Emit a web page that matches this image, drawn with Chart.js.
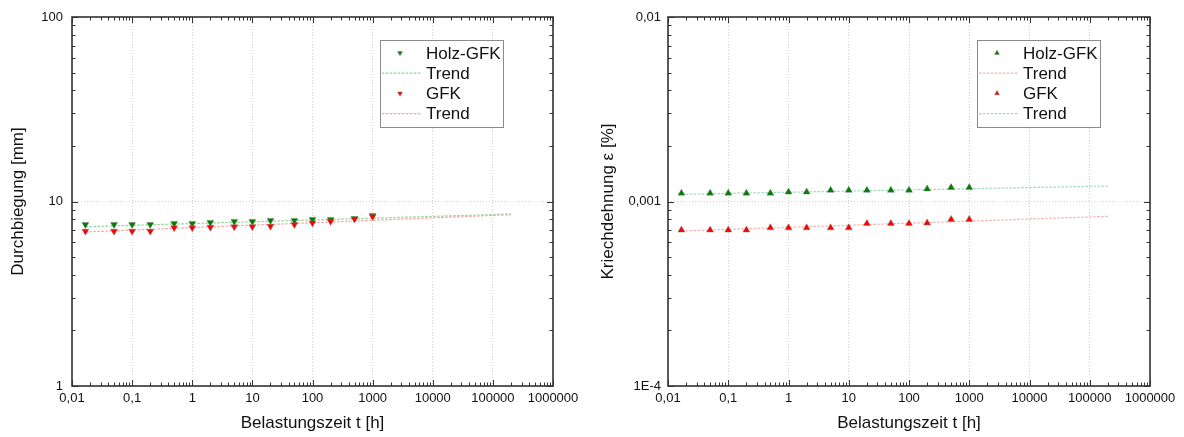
<!DOCTYPE html>
<html>
<head>
<meta charset="utf-8">
<script src="https://cdn.jsdelivr.net/npm/chart.js@4.4.1/dist/chart.umd.min.js"></script>
<style>
  html,body{margin:0;padding:0;background:#fff;}
  .wrap{position:absolute;top:0;width:592px;height:437px;}
</style>
</head>
<body>
<div class="wrap" style="left:0"><canvas id="defl" width="592" height="437"></canvas></div>
<div class="wrap" style="left:592px"><canvas id="strain" width="592" height="437"></canvas></div>
<script>
// measurement times [h]
const timeH = [0.0167, 0.05, 0.1, 0.2, 0.5, 1, 2, 5, 10, 20, 50, 100, 200, 500, 1000];
const trendT = [0.0167, 200000];

// left: Durchbiegung [mm]
const deflHolz = [7.5, 7.5, 7.5, 7.5, 7.6, 7.6, 7.7, 7.8, 7.8, 7.9, 7.9, 8.0, 8.0, 8.1, 8.4];
const deflGfk  = [6.9, 6.9, 6.9, 6.9, 7.2, 7.2, 7.25, 7.3, 7.3, 7.35, 7.5, 7.65, 7.8, 8.05, 8.3];
const deflTrendHolz = [7.3, 8.55];
const deflTrendGfk  = [6.84, 8.48];

// right: Kriechdehnung
const strainHolz = [1.11e-3, 1.11e-3, 1.11e-3, 1.11e-3, 1.11e-3, 1.125e-3, 1.125e-3, 1.15e-3, 1.15e-3, 1.15e-3, 1.15e-3, 1.15e-3, 1.17e-3, 1.19e-3, 1.19e-3];
const strainGfk  = [0.70e-3, 0.70e-3, 0.70e-3, 0.70e-3, 0.72e-3, 0.72e-3, 0.72e-3, 0.72e-3, 0.72e-3, 0.76e-3, 0.76e-3, 0.76e-3, 0.765e-3, 0.80e-3, 0.80e-3];
const strainTrendUpper = [1.094e-3, 1.213e-3];
const strainTrendLower = [0.692e-3, 0.831e-3];

// ticks
const xTicks = [0.01, 0.1, 1, 10, 100, 1000, 10000, 100000, 1000000];
const xTickLabels = ['0,01','0,1','1','10','100','1000','10000','100000','1000000'];
const deflTicks = [1, 10, 100];
const deflTickLabels = ['1','10','100'];
const strainTicks = [0.0001, 0.001, 0.01];
const strainTickLabels = ['1E-4','0,001','0,01'];

Chart.defaults.font.family = "'Liberation Sans', Arial, sans-serif";
Chart.defaults.color = '#111';

const pts = (xs, ys) => xs.map((x, i) => ({x, y: ys[i]}));

// log minor/major tick marks (all four sides) + frame
function logMarks(s){
  const out = [];
  const e0 = Math.round(Math.log10(s.min)), e1 = Math.round(Math.log10(s.max));
  for(let e = e0; e <= e1; e++){
    const d = Math.pow(10, e);
    for(let m = 1; m <= 9; m++){
      if(e === e1 && m > 1) break;
      out.push([d*m, m === 1 ? 6 : 3.5]);
    }
  }
  return out;
}
const frameTicks = {
  id: 'frameTicks',
  afterDatasetsDraw(c){
    const {ctx, chartArea: a, scales: {x, y}} = c;
    ctx.save();
    ctx.strokeStyle = '#333'; ctx.lineWidth = 1;
    ctx.beginPath();
    logMarks(x).forEach(([v, len]) => {
      const p = Math.round(x.getPixelForValue(v)) + 0.5;
      ctx.moveTo(p, a.bottom); ctx.lineTo(p, a.bottom - len);
      ctx.moveTo(p, a.top); ctx.lineTo(p, a.top + len);
    });
    logMarks(y).forEach(([v, len]) => {
      const p = Math.round(y.getPixelForValue(v)) + 0.5;
      ctx.moveTo(a.left, p); ctx.lineTo(a.left + len, p);
      ctx.moveTo(a.right, p); ctx.lineTo(a.right - len, p);
    });
    ctx.stroke();
    ctx.lineWidth = 1.6;
    ctx.strokeRect(a.left, a.top, a.right - a.left, a.bottom - a.top);
    ctx.restore();
  }
};

function tri(ctx, x, y, r, down){
  const s = down ? -1 : 1;
  ctx.beginPath();
  ctx.moveTo(x, y - s*r);
  ctx.lineTo(x - r*0.866, y + s*r*0.5);
  ctx.lineTo(x + r*0.866, y + s*r*0.5);
  ctx.closePath(); ctx.fill(); ctx.stroke();
}

// boxed legend inside the plot
const boxLegend = {
  id: 'boxLegend',
  afterDraw(c, args, o){
    const {ctx} = c;
    ctx.save();
    ctx.fillStyle = '#fff'; ctx.strokeStyle = '#8a8a8a'; ctx.lineWidth = 1;
    ctx.fillRect(o.x, o.y, o.w, o.h);
    ctx.strokeRect(o.x + 0.5, o.y + 0.5, o.w, o.h);
    ctx.font = "17px 'Liberation Sans', Arial, sans-serif";
    ctx.textBaseline = 'middle';
    c.data.datasets.forEach((ds, i) => {
      const yy = o.y + 13 + i*20.2;
      if(ds.showLine){
        ctx.strokeStyle = ds.borderColor; ctx.lineWidth = ds.borderWidth;
        ctx.setLineDash(ds.borderDash);
        ctx.beginPath(); ctx.moveTo(o.x + 2, yy); ctx.lineTo(o.x + 41, yy); ctx.stroke();
        ctx.setLineDash([]);
      } else {
        ctx.fillStyle = ds.backgroundColor; ctx.strokeStyle = ds.borderColor; ctx.lineWidth = 0.4;
        tri(ctx, o.x + 20, yy, 2.8, ds.rotation === 180);
      }
      ctx.fillStyle = '#111';
      ctx.fillText(ds.label, o.x + 46, yy + 1);
    });
    ctx.restore();
  }
};

function makeChart(id, cfg){
  return new Chart(document.getElementById(id), {
    type: 'scatter',
    data: { datasets: cfg.datasets },
    options: {
      responsive: false, animation: false,
      layout: { padding: { top: 17, right: cfg.padRight, left: 0, bottom: 0 } },
      plugins: { legend: { display: false }, tooltip: { enabled: false }, boxLegend: cfg.legend },
      scales: {
        x: {
          type: 'logarithmic', min: 0.01, max: 1000000,
          afterBuildTicks: s => { s.ticks = xTicks.map(v => ({value: v})); },
          afterFit: s => { s.height = 51; },
          ticks: { autoSkip: false, maxRotation: 0, padding: 5, font: { size: 13 }, callback: (v, i) => xTickLabels[i] },
          grid: { color: '#d2d2d2', lineWidth: 1, drawTicks: false },
          border: { display: false, dash: [1, 2] },
          title: { display: true, text: 'Belastungszeit t [h]', font: { size: 17 }, padding: { top: 0, bottom: 3 } }
        },
        y: {
          type: 'logarithmic', min: cfg.yTicks[0], max: cfg.yTicks[cfg.yTicks.length - 1],
          afterBuildTicks: s => { s.ticks = cfg.yTicks.map(v => ({value: v})); },
          afterFit: s => { s.width = cfg.yWidth; },
          ticks: { autoSkip: false, padding: cfg.yPad, font: { size: 13 }, callback: (v, i) => cfg.yLabels[i] },
          grid: { color: '#d2d2d2', lineWidth: 1, drawTicks: false },
          border: { display: false, dash: [1, 2] },
          title: { display: true, text: cfg.yTitle, font: { size: 17 }, padding: { top: cfg.yTitlePad, bottom: 0 } }
        }
      }
    },
    plugins: [frameTicks, boxLegend]
  });
}

const GREEN = '#008000', RED = '#ff0000', EDGE = '#707070';
const mark = (label, data, color, rot, order) => ({ label, data, pointStyle: 'triangle', rotation: rot, pointRadius: 4,
  backgroundColor: color, borderColor: EDGE, borderWidth: 0.4, showLine: false, order });
const trend = (data, color, order) => ({ label: 'Trend', data, showLine: true, pointRadius: 0, borderColor: color,
  borderWidth: 1.2, borderDash: [2.5, 1.5], fill: false, order });

makeChart('defl', {
  datasets: [
    mark('Holz-GFK', pts(timeH, deflHolz), GREEN, 180, 1),
    trend(pts(trendT, deflTrendHolz), '#8fd88f', 3),
    mark('GFK', pts(timeH, deflGfk), RED, 180, 0),
    trend(pts(trendT, deflTrendGfk), '#ffa0a0', 2)
  ],
  yTicks: deflTicks, yLabels: deflTickLabels, yTitle: 'Durchbiegung [mm]',
  yWidth: 72, yPad: 9, yTitlePad: 8, padRight: 39,
  legend: { x: 380, y: 40, w: 123, h: 87 }
});

makeChart('strain', {
  datasets: [
    mark('Holz-GFK', pts(timeH, strainHolz), GREEN, 0, 1),
    trend(pts(trendT, strainTrendLower), '#ffacac', 3),
    mark('GFK', pts(timeH, strainGfk), RED, 0, 0),
    trend(pts(trendT, strainTrendUpper), '#96dcbc', 2)
  ],
  yTicks: strainTicks, yLabels: strainTickLabels, yTitle: 'Kriechdehnung ε [%]',
  yWidth: 76, yPad: 7, yTitlePad: 6, padRight: 34,
  legend: { x: 385, y: 40, w: 123, h: 87 }
});
</script>
</body>
</html>
